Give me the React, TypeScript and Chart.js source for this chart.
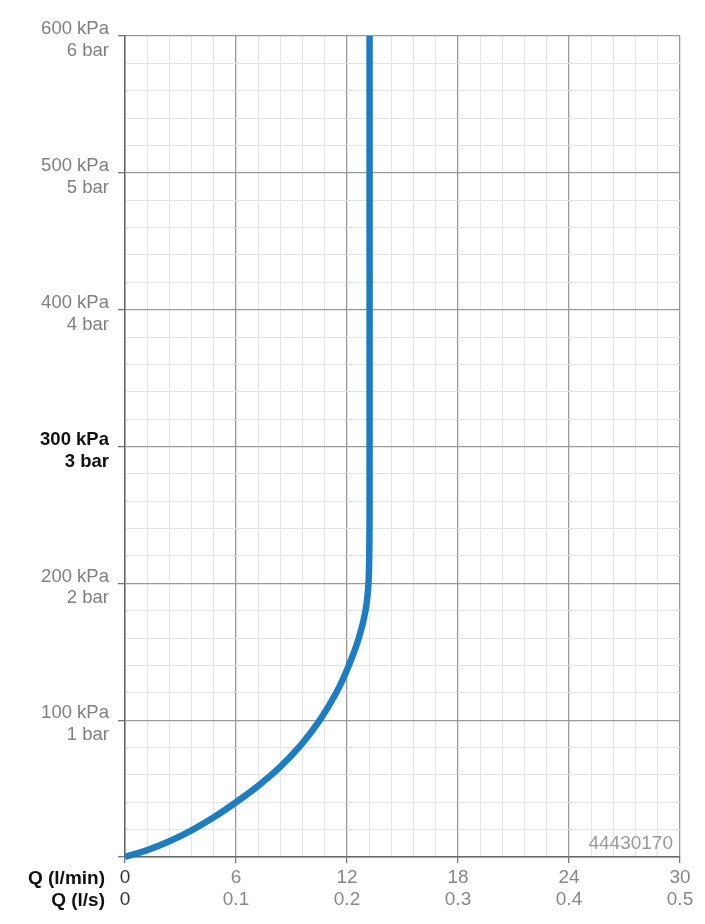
import React, { useEffect, useRef } from "react";
import { Chart, registerables } from "chart.js";

Chart.register(...registerables);

const flowLpm = [0, 1.2, 2.4, 3.6, 4.8, 6, 7.2, 8.4, 9.55, 10.53, 11.42, 12.1, 12.64, 13.0, 13.16, 13.21, 13.22, 13.22];
const pressureKpa = [0, 5, 11.5, 19.5, 29, 40, 52, 66, 82.5, 100, 120, 140, 160, 180, 200, 230, 260, 600];
const xMajorStep = 6;
const yMajorStep = 100;
const boldPressure = 300;
const axisTitles = ["Q (l/min)", "Q (l/s)"];
const codeLabel = "44430170";

const FONT = "'Liberation Sans', Arial, Helvetica, sans-serif";
const isMult = (v: number, s: number) => Math.abs(v / s - Math.round(v / s)) < 1e-6;

const textPlugin = {
  id: "extraText",
  afterDraw(chart: any) {
    const { ctx, chartArea } = chart;
    ctx.save();
    ctx.font = `bold 19px ${FONT}`;
    ctx.fillStyle = "#111";
    ctx.textAlign = "right";
    ctx.textBaseline = "middle";
    ctx.fillText(axisTitles[0], chartArea.left - 20, chartArea.bottom + 22);
    ctx.fillText(axisTitles[1], chartArea.left - 20, chartArea.bottom + 44);
    ctx.font = `19px ${FONT}`;
    ctx.fillStyle = "#9a9a9a";
    ctx.fillText(codeLabel, chartArea.right - 7, chartArea.bottom - 13);
    ctx.restore();
  },
};

export default function App() {
  const ref = useRef<HTMLCanvasElement | null>(null);
  useEffect(() => {
    if (!ref.current) return;
    const data = flowLpm.map((x, i) => ({ x, y: pressureKpa[i] }));
    const chart = new Chart(ref.current, {
      type: "line",
      data: {
        datasets: [
          {
            data,
            borderColor: "#1d7dc3",
            borderWidth: 6.5,
            pointRadius: 0,
            tension: 0.35,
            fill: false,
            borderCapStyle: "butt",
            clip: false as any,
          },
        ],
      },
      plugins: [textPlugin],
      options: {
        animation: false,
        responsive: true,
        maintainAspectRatio: false,
        layout: { padding: { top: 36, right: 25, bottom: 0, left: 0 } },
        plugins: { legend: { display: false }, tooltip: { enabled: false } },
        scales: {
          x: {
            type: "linear",
            min: 0,
            max: 30,
            afterFit: (s: any) => {
              s.height = 67;
            },
            ticks: {
              stepSize: 1.2,
              autoSkip: false,
              maxRotation: 0,
              padding: 4,
              font: { family: FONT, size: 19, lineHeight: 1.16 },
              color: (c: any) => (c.tick && c.tick.value === 0 ? "#333" : "#888"),
              callback: (v: any) => {
                const n = Number(v);
                if (!isMult(n, xMajorStep)) return "";
                const r = Math.round(n);
                return [String(r), r === 0 ? "0" : (r / 60).toFixed(1)];
              },
            },
            grid: {
              color: (c: any) => (c.tick && isMult(c.tick.value, xMajorStep) ? "#9a9a9a" : "#e4e4e4"),
              lineWidth: (c: any) => (c.tick && isMult(c.tick.value, xMajorStep) ? 1.3 : 1),
              tickColor: (c: any) => (c.tick && isMult(c.tick.value, xMajorStep) ? "#777" : "rgba(0,0,0,0)"),
              tickLength: 6,
              drawTicks: true,
            },
            border: { display: true, color: "#666", width: 1.5 },
          },
          y: {
            type: "linear",
            min: 0,
            max: 600,
            afterFit: (s: any) => {
              s.width = 125;
            },
            ticks: {
              stepSize: 20,
              autoSkip: false,
              padding: 9,
              labelOffset: 4,
              font: (c: any) => ({
                family: FONT,
                size: 18.5,
                lineHeight: 1.18,
                weight: c.tick && c.tick.value === boldPressure ? "bold" : "normal",
              }),
              color: (c: any) => (c.tick && c.tick.value === boldPressure ? "#111" : "#808080"),
              callback: (v: any) => {
                const n = Number(v);
                if (n === 0 || !isMult(n, yMajorStep)) return "";
                return [`${n} kPa`, `${n / 100} bar`];
              },
            },
            grid: {
              color: (c: any) => (c.tick && isMult(c.tick.value, yMajorStep) ? "#9a9a9a" : "#e4e4e4"),
              lineWidth: (c: any) => (c.tick && isMult(c.tick.value, yMajorStep) ? 1.3 : 1),
              tickColor: (c: any) => (c.tick && isMult(c.tick.value, yMajorStep) ? "#777" : "rgba(0,0,0,0)"),
              tickLength: 7,
              drawTicks: true,
            },
            border: { display: true, color: "#666", width: 1.5 },
          },
        },
      },
    });
    return () => chart.destroy();
  }, []);
  return (
    <div style={{ position: "fixed", left: 0, top: 0, width: 705, height: 924, background: "#fff" }}>
      <canvas ref={ref} />
    </div>
  );
}
